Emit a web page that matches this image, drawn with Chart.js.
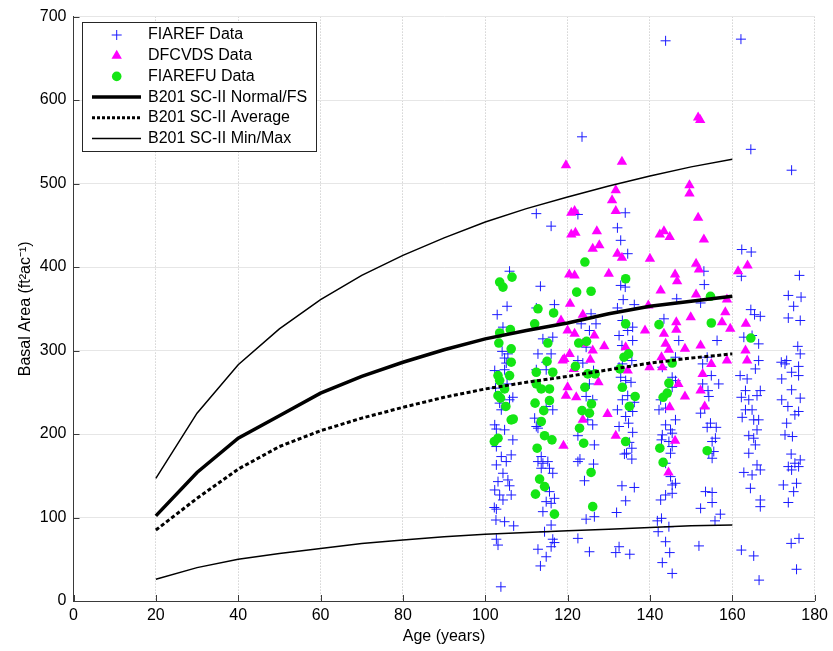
<!DOCTYPE html>
<html>
<head>
<meta charset="utf-8">
<script src="https://cdn.jsdelivr.net/npm/chart.js@4/dist/chart.umd.min.js"></script>
<style>
  html,body{margin:0;padding:0;background:#fff;}
  #wrap{width:833px;height:651px;}
</style>
</head>
<body>
<div id="wrap"><canvas id="c" width="833" height="651"></canvas></div>
<script>
// ---------- Model curves ----------
const curveAge = [20,30,40,50,60,70,80,90,100,110,120,130,140,150,160];
const normalBA = [102,154,195,222,249,269,286,301,314,324,333,344,353,359,365];
const averageBA = [85,123,158,185,204,219,232,244,254,262,269,277,285,291,296];
const maxBA = [147,225,283,326,361,390,414,435,454,470,484,497,509,520,529];
const minBA = [26,40,50,57,63,69,73,77,80,82,84,86,88,90,91];

// ---------- FIAREF Data (blue +) ----------
const fiarefAge = [
112.4,116.0,105.9,113.4,116.8,105.3,112.4,
143.8,162.1,123.5,164.5,174.4,122.5,134.0,132.1,132.9,134.6,162.3,164.6,153.1,153.2,162.2,176.3,132.9,134.0,146.5,173.6,176.7,174.9,133.5,136.2,132.1,152.3,164.5,
122.5,125.3,124.5,126.5,124.1,126.3,122.5,123.0,122.5,126.5,126.1,124.9,124.5,126.1,125.3,123.7,126.3,122.5,124.5,126.9,123.3,125.3,125.7,
132.5,131.7,135.1,131.9,134.1,136.2,133.2,135.6,134.3,133.8,135.6,135.0,132.5,135.8,134.8,132.1,134.1,135.8,133.3,136.2,134.6,132.9,135.4,134.1,132.5,135.6,133.3,133.2,134.6,135.8,132.5,134.6,133.3,135.8,
145.4,143.0,144.8,143.8,142.0,142.8,141.8,144.6,142.6,143.8,145.4,146.2,145.0,145.4,143.8,145.0,145.4,142.8,144.6,143.0,145.4,143.8,145.0,146.2,142.2,143.8,142.6,145.4,146.2,145.4,143.0,146.2,143.4,147.0,
151.9,155.8,157.1,152.3,155.1,155.1,153.5,154.3,155.5,155.1,155.9,155.1,153.9,156.1,154.7,152.3,153.3,154.3,156.7,154.1,152.8,154.9,152.8,156.3,153.9,
162.2,165.2,166.5,166.8,166.8,164.4,164.8,162.8,166.8,166.0,164.0,165.6,165.2,164.0,166.0,165.2,162.4,163.2,164.8,166.4,162.2,164.0,163.2,166.0,166.8,161.9,163.6,166.4,165.6,162.8,164.8,165.4,166.8,166.4,
175.6,174.3,176.2,173.6,174.9,172.4,174.4,176.1,173.6,175.6,176.5,175.2,174.3,174.6,172.8,173.2,175.2,176.1,173.5,172.0,176.5,174.4,172.0,176.1,174.4,173.2,171.9,172.8,176.1,175.9,176.5,173.6,176.5,
102.9,104.3,104.1,104.7,105.5,102.3,104.7,105.1,106.7,105.9,103.9,103.5,102.3,102.7,104.7,106.7,102.7,103.9,106.3,102.7,105.1,104.3,105.5,103.1,105.9,102.3,106.3,104.3,103.5,102.2,102.7,102.6,104.7,106.9,102.7,103.1,103.8,105.3,102.5,
112.8,112.0,113.6,112.8,114.0,115.2,116.4,113.6,115.6,115.6,116.8,114.8,116.0,114.0,116.0,114.4,116.4,116.8,116.0,112.8,114.8,113.4,112.8,114.8,116.0,112.4,114.8,116.4,114.8,114.0,116.4,112.4
];
const fiarefBA = [
464,449,395,377,355,353,351,
671,673,556,541,516,463,465,447,432,416,421,418,395,379,389,390,378,376,362,366,364,353,361,355,351,357,349,
75,59,98,101,144,164,167,170,198,187,211,217,245,241,260,285,276,288,304,332,332,324,344,
65,58,56,106,120,136,138,170,177,176,183,190,209,202,213,229,221,227,241,238,246,268,262,264,280,288,284,306,296,312,318,324,336,328,
33,46,58,71,83,99,96,89,121,127,129,141,149,139,165,177,185,193,191,199,201,211,205,217,229,231,241,268,264,256,280,292,338,312,
66,96,104,111,118,130,131,177,179,171,195,191,208,208,213,225,231,245,260,252,260,270,284,312,292,
61,54,25,121,113,135,151,154,157,163,177,187,195,198,205,217,220,229,229,217,244,241,252,246,252,270,266,288,278,316,318,343,341,308,
38,69,75,118,131,139,157,161,161,141,169,165,176,197,199,213,223,227,233,241,243,253,266,270,274,288,286,284,281,305,296,339,336,
343,328,299,291,296,276,277,285,244,241,229,237,211,206,205,193,185,173,175,163,167,153,145,143,138,133,127,121,127,112,110,97,95,90,74,67,17,260,255,
207,219,173,167,165,167,153,159,159,131,123,119,117,107,91,83,74,70,65,62,53,42,296,286,296,277,277,229,233,314,316,209
];

// ---------- DFCVDS Data (magenta triangles) ----------
const dfcvdsAge = [
119.6,120.9,120.9,120.4,120.6,
118.4,120.0,120.5,118.8,120.0,119.6,119.0,
133.2,151.7,152.2,149.6,149.6,131.7,130.8,131.7,151.7,121.7,121.9,127.1,126.1,127.7,132.1,133.2,142.4,143.4,144.8,153.1,140.0,151.2,151.9,121.7,130.0,146.1,146.6,142.6,151.2,161.4,163.7,158.7,139.6,
123.7,138.8,143.4,143.8,144.6,146.4,146.4,149.9,148.5,152.3,157.5,159.5,158.3,163.3,163.2,163.6,126.5,128.9,126.1,123.7,134.1,134.6,139.9,143.0,142.8,154.9,158.7,152.8,146.9,148.5,152.3,153.3,144.8,129.7,123.7,131.7,146.1,144.5,122.1,121.7,
119.2,121.5,127.5,125.5
];
const dfcvdsBA = [
522,465,439,391,356,
336,324,296,288,256,246,186,
526,579,576,498,488,492,480,467,459,467,441,443,422,426,416,411,439,443,436,433,410,404,397,390,392,391,383,372,367,395,402,361,354,
343,324,320,308,301,334,325,340,302,306,334,326,346,332,300,288,318,305,300,308,304,276,280,280,292,284,288,272,260,245,252,233,232,224,217,198,192,154,244,320,
290,278,262,289
];

// ---------- FIAREFU Data (green circles) ----------
const fiarefuAge = [
103.5,104.3,106.5,112.8,116.6,
103.5,106.1,103.3,106.3,106.3,103.1,103.5,105.9,104.7,103.1,103.7,105.0,106.3,106.8,102.2,103.1,
112.0,115.2,115.0,112.4,116.4,112.4,113.6,115.6,115.6,112.1,114.2,113.6,114.4,116.2,112.6,113.2,114.4,112.2,116.8,
124.2,134.1,122.2,125.7,154.7,
134.1,142.2,154.9,164.5,122.7,124.6,121.9,133.7,134.8,132.7,145.4,124.9,126.7,144.6,124.2,133.3,136.4,144.2,143.2,125.8,135.0,123.5,125.3,122.9,123.9,134.1,142.4,153.9,143.2,125.7,126.1
];
const fiarefuBA = [
382,376,388,350,345,
321,325,309,302,286,270,264,270,254,246,243,233,217,218,191,195,
332,309,287,274,274,260,254,254,240,237,228,215,198,193,183,146,137,128,104,
406,386,370,371,365,
332,331,333,315,309,311,281,292,296,278,285,272,272,261,256,256,245,249,244,236,233,228,225,207,189,191,183,180,166,154,113
];

// ---------- Axis / labels ----------
const xTicks = [0,20,40,60,80,100,120,140,160,180];
const yTicks = [0,100,200,300,400,500,600,700];
const xTitle = 'Age (years)';
const yTitle = 'Basal Area (ft\u00B2ac\u207B\u00B9)';
const seriesLabels = ['FIAREF Data','DFCVDS Data','FIAREFU Data','B201 SC-II Normal/FS','B201 SC-II Average','B201 SC-II Min/Max'];

const FONT = '"Liberation Sans", Arial, Helvetica, sans-serif';
const pts = (xs, ys) => xs.map((x, i) => ({x, y: ys[i]}));

const datasets = [
  {label: seriesLabels[0], data: pts(fiarefAge, fiarefBA), pointStyle: 'cross', pointRadius: 5,
   borderColor: '#1a1aff', backgroundColor: '#1a1aff', pointBorderWidth: 1, borderWidth: 1, order: 4},
  {label: seriesLabels[1], data: pts(dfcvdsAge, dfcvdsBA), pointStyle: 'triangle', pointRadius: 6,
   borderColor: '#ff00ff', backgroundColor: '#ff00ff', pointBorderWidth: 0, borderWidth: 0, order: 3},
  {label: seriesLabels[2], data: pts(fiarefuAge, fiarefuBA), pointStyle: 'circle', pointRadius: 4.8,
   borderColor: '#14e614', backgroundColor: '#14e614', pointBorderWidth: 0, borderWidth: 0, order: 2},
  {label: seriesLabels[3], data: pts(curveAge, normalBA), showLine: true, pointRadius: 0,
   borderColor: '#000', borderWidth: 3.5, order: 1},
  {label: seriesLabels[4], data: pts(curveAge, averageBA), showLine: true, pointRadius: 0,
   borderColor: '#000', borderWidth: 3, borderDash: [4, 2.5], order: 1},
  {label: seriesLabels[5], data: pts(curveAge, maxBA), showLine: true, pointRadius: 0,
   borderColor: '#000', borderWidth: 1.5, order: 1},
  {label: seriesLabels[5] + ' (min)', data: pts(curveAge, minBA), showLine: true, pointRadius: 0,
   borderColor: '#000', borderWidth: 1.5, order: 1}
];

// inward tick marks
const inwardTicks = {
  id: 'inwardTicks',
  afterDatasetsDraw(chart) {
    const {ctx, chartArea: a, scales: {x, y}} = chart;
    ctx.save();
    ctx.strokeStyle = '#3a3a3a';
    ctx.lineWidth = 1;
    ctx.beginPath();
    xTicks.forEach(v => { const px = Math.round(x.getPixelForValue(v)) + 0.5; ctx.moveTo(px, a.bottom); ctx.lineTo(px, a.bottom - 6); });
    yTicks.forEach(v => { const py = Math.round(y.getPixelForValue(v)) + 0.5; ctx.moveTo(a.left, py); ctx.lineTo(a.left + 6, py); });
    ctx.stroke();
    ctx.restore();
  }
};

// boxed legend inside the plot (top-left)
const boxLegend = {
  id: 'boxLegend',
  afterDraw(chart) {
    const ctx = chart.ctx;
    const x0 = 82, y0 = 22, w = 234, h = 129;
    ctx.save();
    ctx.fillStyle = '#fff';
    ctx.fillRect(x0, y0, w, h);
    ctx.strokeStyle = '#262626';
    ctx.lineWidth = 1;
    ctx.strokeRect(x0 + 0.5, y0 + 0.5, w, h);
    const mx = 116.7, lx1 = 92, lx2 = 141, tx = 148;
    const rowY = i => 35 + i * 20.7;
    ctx.font = '16px ' + FONT;
    ctx.textBaseline = 'middle';
    ctx.textAlign = 'left';
    ctx.fillStyle = '#000';
    seriesLabels.forEach((s, i) => ctx.fillText(s, tx, rowY(i)));
    // cross
    let yy = rowY(0);
    ctx.strokeStyle = '#1a1aff'; ctx.lineWidth = 1;
    ctx.beginPath(); ctx.moveTo(mx - 5, yy); ctx.lineTo(mx + 5, yy); ctx.moveTo(mx, yy - 5); ctx.lineTo(mx, yy + 5); ctx.stroke();
    // triangle
    yy = rowY(1);
    const r = 6;
    ctx.fillStyle = '#ff00ff';
    ctx.beginPath();
    ctx.moveTo(mx, yy - r);
    ctx.lineTo(mx + r * Math.sin(2 * Math.PI / 3), yy - r * Math.cos(2 * Math.PI / 3));
    ctx.lineTo(mx - r * Math.sin(2 * Math.PI / 3), yy - r * Math.cos(2 * Math.PI / 3));
    ctx.closePath(); ctx.fill();
    // circle
    yy = rowY(2);
    ctx.fillStyle = '#14e614';
    ctx.beginPath(); ctx.arc(mx, yy, 4.8, 0, Math.PI * 2); ctx.fill();
    // lines
    ctx.strokeStyle = '#000';
    ctx.lineWidth = 3.5; ctx.beginPath(); ctx.moveTo(lx1, rowY(3)); ctx.lineTo(lx2, rowY(3)); ctx.stroke();
    ctx.lineWidth = 3; ctx.setLineDash([3, 2]); ctx.beginPath(); ctx.moveTo(lx1, rowY(4)); ctx.lineTo(lx2, rowY(4)); ctx.stroke();
    ctx.setLineDash([]);
    ctx.lineWidth = 1.5; ctx.beginPath(); ctx.moveTo(lx1, rowY(5)); ctx.lineTo(lx2, rowY(5)); ctx.stroke();
    ctx.restore();
  }
};

new Chart(document.getElementById('c'), {
  type: 'scatter',
  data: {datasets},
  plugins: [inwardTicks, boxLegend],
  options: {
    responsive: false,
    animation: false,
    devicePixelRatio: 1,
    layout: {padding: {top: 15, right: 13, left: 0, bottom: 0}},
    plugins: {legend: {display: false}, tooltip: {enabled: false}},
    elements: {line: {tension: 0}},
    scales: {
      x: {
        type: 'linear', min: 0, max: 180,
        afterBuildTicks: s => { s.ticks = xTicks.map(v => ({value: v})); },
        afterFit: s => { s.height = 50; },
        ticks: {color: '#000', padding: 5, font: {family: FONT, size: 16}},
        grid: {color: '#bdbdbd', lineWidth: 1, drawTicks: false},
        border: {display: true, color: '#3a3a3a', width: 1, dash: [1, 2]},
        title: {display: true, text: xTitle, color: '#000', font: {family: FONT, size: 16}, padding: {top: 0, bottom: 5}}
      },
      y: {
        type: 'linear', min: 0, max: 700,
        afterBuildTicks: s => { s.ticks = yTicks.map(v => ({value: v})); },
        afterFit: s => { s.width = 73.5; },
        ticks: {color: '#000', padding: 7, font: {family: FONT, size: 16}},
        grid: {color: '#e6e6e6', lineWidth: 1, drawTicks: false},
        border: {display: true, color: '#3a3a3a', width: 1},
        title: {display: true, text: yTitle, color: '#000', font: {family: FONT, size: 16}, padding: {top: 16, bottom: 0}}
      }
    }
  }
});
</script>
</body>
</html>
